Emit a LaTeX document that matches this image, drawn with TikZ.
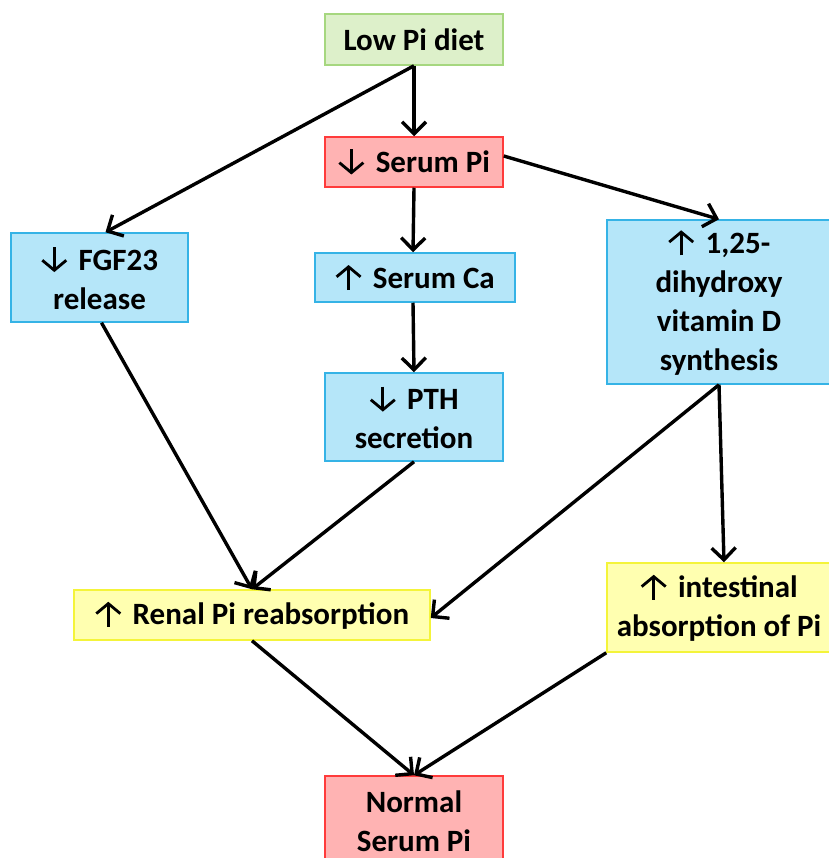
\documentclass[tikz,border=0pt]{standalone}
\usepackage{fontspec}
\setmainfont{Carlito}
\usetikzlibrary{arrows.meta}
\definecolor{gfill}{HTML}{DDF0CA}
\definecolor{gline}{HTML}{A6D77F}
\definecolor{pfill}{HTML}{FFB3B3}
\definecolor{pline}{HTML}{FF3B3B}
\definecolor{bfill}{HTML}{B5E6F9}
\definecolor{bline}{HTML}{35B3E6}
\definecolor{yfill}{HTML}{FFFFB0}
\definecolor{yline}{HTML}{F4F43A}
\tikzset{ibarb/.style={line width=2.8pt,-{Straight Barb[length=10pt,width=24pt,line width=2.8pt]}}}
\newcommand{\up}{\tikz[baseline=0pt,x=1pt,y=1pt]{\draw[ibarb] (12,-2) -- (12,23);\path (0,0) (24,0);}\hspace{11pt}}
\newcommand{\dn}{\tikz[baseline=0pt,x=1pt,y=1pt]{\draw[ibarb] (12,23) -- (12,-2);\path (0,0) (24,0);}\hspace{11pt}}
\tikzset{
  box/.style={draw, line width=1.5pt, inner sep=0pt, align=center,
    font=\fontsize{31}{39}\selectfont\bfseries},
  gbox/.style={box, fill=gfill, draw=gline},
  pbox/.style={box, fill=pfill, draw=pline},
  bbox/.style={box, fill=bfill, draw=bline},
  ybox/.style={box, fill=yfill, draw=yline},
  conn/.style={line width=3.4pt, -{Straight Barb[length=12pt,width=24pt,line width=3.4pt]}}
}
\begin{document}
\begin{tikzpicture}[x=1pt,y=-1pt]
\useasboundingbox (0,0) rectangle (828,858);
\fill[white] (0,0) rectangle (828,858);
\node[gbox, minimum width=178, minimum height=51] (low) at (414,39.5) {Low Pi diet};
\node[pbox, minimum width=178, minimum height=50] (spi) at (414,162) {\dn Serum Pi};
\node[bbox, minimum width=177, minimum height=89] (fgf) at (99.5,277.5) {\dn FGF23\\release};
\node[bbox, minimum width=200, minimum height=49] (sca) at (415,277.5) {\up Serum Ca};
\node[bbox, minimum width=178, minimum height=88] (pth) at (414,417) {\dn PTH\\secretion};
\node[bbox, minimum width=224, minimum height=164] (vitd) at (719,302) {\up 1,25-\\dihydroxy\\vitamin D\\synthesis};
\node[ybox, minimum width=356, minimum height=50] (renal) at (252,615) {\up Renal Pi reabsorption};
\node[ybox, minimum width=224, minimum height=89] (intest) at (719,607.5) {\up intestinal\\absorption of Pi};
\node[pbox, minimum width=178, minimum height=90] (norm) at (414,821) {Normal\\Serum Pi};
\draw[conn] (low.south) -- (spi.north);
\draw[conn] (low.south) -- ([xshift=6pt]fgf.north);
\draw[conn] ([yshift=6pt]spi.east) -- (vitd.north);
\draw[conn] (spi.south) -- ([xshift=-2pt]sca.north);
\draw[conn] ([xshift=-2pt]sca.south) -- (pth.north);
\draw[conn] ([xshift=2pt]fgf.south) -- (renal.north);
\draw[conn] (pth.south) -- (renal.north);
\draw[conn] (vitd.south) -- ([yshift=-3pt]renal.east);
\draw[conn] (vitd.south) -- ([xshift=5pt]intest.north);
\draw[conn] (renal.south) -- (norm.north);
\draw[conn] (intest.south west) -- (norm.north);
\end{tikzpicture}
\end{document}
